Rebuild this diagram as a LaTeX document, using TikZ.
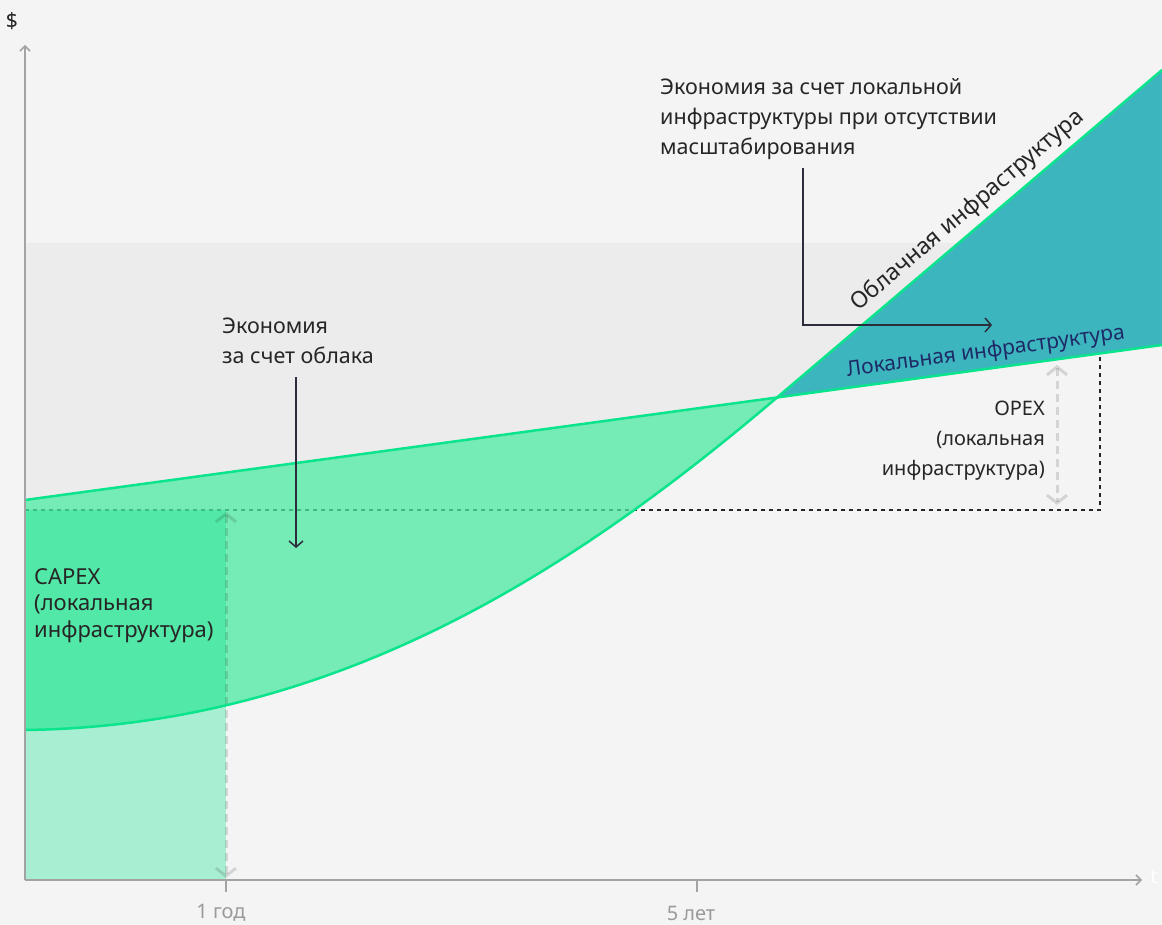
\documentclass[tikz,border=0pt]{standalone}
\usepackage{fontspec}
\setmainfont{Noto Sans}
\usetikzlibrary{arrows.meta}
\definecolor{bgc}{HTML}{F4F4F4}
\definecolor{band}{HTML}{ECECEC}
\definecolor{mint}{RGB}{75,232,160}
\definecolor{brite}{RGB}{10,228,140}
\definecolor{tealfill}{RGB}{61,181,191}
\definecolor{ink}{HTML}{262626}
\definecolor{navy}{HTML}{1E2A66}
\definecolor{axisgray}{HTML}{A3A3A3}
\definecolor{ticklbl}{HTML}{9A9A9A}
\definecolor{annot}{HTML}{2B2E3A}

\begin{document}
\begin{tikzpicture}[x=1pt,y=-1pt,
  lbl/.style={font=\fontsize{21.5}{30}\selectfont,text=ink,align=left,inner sep=0pt},
  axis/.style={draw=axisgray,line width=1.5pt,-{Straight Barb[length=5pt,width=10pt]}},
  guidearrow/.style={draw=black,draw opacity=.13,line width=3pt,dash pattern=on 8pt off 5pt,{Straight Barb[length=8pt,width=20pt]}-{Straight Barb[length=8pt,width=20pt]}},
  annotarrow/.style={draw=annot,line width=1.5pt,-{Straight Barb[length=6pt,width=14pt]}},
  costline/.style={draw=brite,line width=2.5pt}]
\fill[bgc] (0,0) rectangle (1162,925);
\useasboundingbox (0,0) rectangle (1162,925);

\coordinate (o) at (25,880);
\coordinate (loc0) at (25,500);
\coordinate (loc1) at (1162,345);
\coordinate (cross) at (777,397.5);
\coordinate (cld0) at (25,730);
\coordinate (cld1) at (1162,70);
\coordinate (capextop) at (25,510);
\coordinate (opexcorner) at (1100,510);
\coordinate (opextop) at (1100,354);

\fill[band] (25,243) -- (1162,243) -- (loc1) -- (loc0) -- cycle;

\draw[ink,line width=1.2pt,dash pattern=on 4pt off 4pt] (capextop) -- (opexcorner) -- (opextop);

\fill[mint,fill opacity=.75] (loc0) -- (cross) .. controls (580,565) and (340,726) .. (cld0) -- cycle;
\fill[tealfill] (cross) -- (cld1) -- (loc1) -- cycle;
\fill[brite,fill opacity=.32] (capextop) rectangle (226,880);

\draw[guidearrow] (226,512) -- (226,878);
\draw[guidearrow] (1057,365) -- (1057,505);

\draw[costline] (loc0) -- (loc1);
\draw[costline] (cld0) .. controls (340,726) and (580,565) .. (cross) -- (cld1);

\draw[axis] (o) -- (25,45);
\draw[axis] (o) -- (1142,880);
\draw[axisgray,line width=1.5pt] (226,880) -- (226,892);
\draw[axisgray,line width=1.5pt] (697,880) -- (697,892);
\node[font=\fontsize{20}{24}\selectfont,text=ticklbl] (yr1) at (221,913) {1 год};
\node[font=\fontsize{20}{24}\selectfont,text=ticklbl] (yr5) at (691,913) {5 лет};
\node[font=\fontsize{20}{24}\selectfont,text=white] (tlbl) at (1154,877) {t};
\node[font=\fontsize{21}{24}\selectfont,text=ink] (dollar) at (12,21) {\$};

\path (cross) -- (cld1) node[pos=.527,sloped,above=7pt,inner sep=0pt,font=\fontsize{23}{26}\selectfont,text=ink] (cloudlbl) {Облачная инфраструктура};
\path (loc0) -- (loc1) node[pos=.847,sloped,above=6pt,inner sep=0pt,font=\fontsize{21}{26}\selectfont,text=navy] (loclbl) {Локальная инфраструктура};

\node[lbl,anchor=base west] (localsave) at (660,155) {Экономия за счет локальной\\инфраструктуры при отсутствии\\масштабирования};
\node[lbl,anchor=base west] (cloudsave) at (222,363) {Экономия\\за счет облака};
\node[lbl,anchor=base west,font=\fontsize{22}{26.5}\selectfont] (capex) at (34,637) {CAPEX\\(локальная\\инфраструктура)};
\node[lbl,align=right,anchor=base east,font=\fontsize{20}{30}\selectfont] (opex) at (1045,475) {OPEX\\(локальная\\инфраструктура)};

\coordinate (cstip) at (296,548);
\coordinate (lsbend) at (803,325);
\coordinate (lstip) at (992,325);
\draw[annotarrow,shorten <=14pt] (cloudsave.south -| cstip) -- (cstip);
\draw[annotarrow,shorten <=8pt] (localsave.south -| lsbend) -- (lsbend) -- (lstip);
\end{tikzpicture}
\end{document}
